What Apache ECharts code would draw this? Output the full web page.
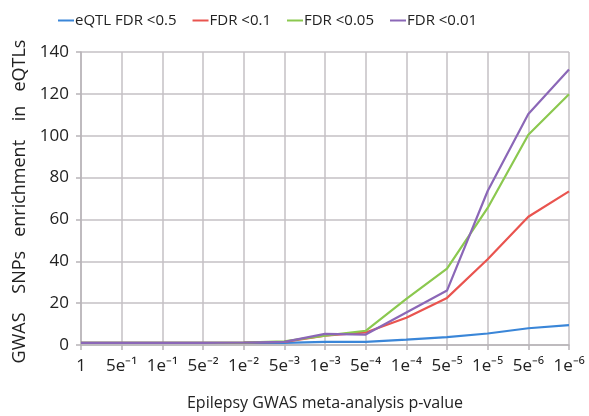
<!DOCTYPE html>
<html><head><meta charset="utf-8">
<script src="https://cdn.jsdelivr.net/npm/echarts@6/dist/echarts.min.js"></script>
<style>html,body{margin:0;padding:0;background:#fff}#c{width:589px;height:416px}</style>
</head><body><div id="c"></div>
<script>
var categories = ['1','5e⁻¹','1e⁻¹','5e⁻²','1e⁻²','5e⁻³','1e⁻³','5e⁻⁴','1e⁻⁴','5e⁻⁵','1e⁻⁵','5e⁻⁶','1e⁻⁶'];
var seriesNames = ['eQTL FDR <0.5','FDR <0.1','FDR <0.05','FDR <0.01'];
var fdr05 = [1,1,1,1,1,1,1.5,1.5,2.6,3.8,5.5,8,9.5];
var fdr01 = [1,1,1,1,1.2,1.5,4.5,6,13,22.5,41,61.3,73.4];
var fdr005 = [1,1,1,1,1.2,1.8,4.5,6.8,22,36.5,65.5,100.5,119.8];
var fdr001 = [1,1,1,1,1.2,1.5,5.3,5,15.5,26,73.6,110.4,131.6];
var yTicks = [0,20,40,60,80,100,120,140];
var colors = ['#3a86d8','#e9544f','#8bc84f','#8b67b7'];
var font = '"Open Sans", "Liberation Sans", sans-serif';
var data = [fdr05, fdr01, fdr005, fdr001];
var chart = echarts.init(document.getElementById('c'));
chart.setOption({
  animation:false,
  color: colors,
  textStyle:{fontFamily:font},
  legend:{
    top:8, left:53, itemWidth:16, itemHeight:2, itemGap:16,
    icon:'rect',
    textStyle:{fontSize:15, color:'#222', fontFamily:font, padding:[0,0,0,-4]},
    data: seriesNames
  },
  grid:{left:81, right:20, top:52, bottom:69},
  xAxis:{
    type:'category', data:categories, boundaryGap:false,
    name:'Epilepsy GWAS meta-analysis p-value', nameLocation:'middle', nameGap:50,
    nameTextStyle:{fontSize:16, color:'#222', fontFamily:font},
    axisLine:{lineStyle:{color:'#b8b4b8', width:1.5}},
    axisTick:{show:true, length:5, lineStyle:{color:'#b8b4b8', width:1.5}},
    axisLabel:{fontSize:17, color:'#222', margin:13, fontFamily:font, interval:0},
    splitLine:{show:true, lineStyle:{color:'#c4c0c4', width:1.5}}
  },
  yAxis:{
    type:'value', min:yTicks[0], max:yTicks[yTicks.length-1], interval:20,
    name:'GWAS    SNPs   enrichment    in   eQTLs', nameLocation:'middle', nameGap:52,
    nameTextStyle:{fontSize:18, color:'#222', fontFamily:font, padding:[0,0,0,-6]},
    axisLine:{show:true, lineStyle:{color:'#b8b4b8', width:1.5}},
    axisTick:{show:true, length:5, lineStyle:{color:'#b8b4b8', width:1.5}},
    axisLabel:{fontSize:17, color:'#222', margin:12, fontFamily:font},
    splitLine:{show:true, lineStyle:{color:'#c4c0c4', width:1.5}}
  },
  series: seriesNames.map(function(n,i){
    return {name:n, type:'line', data:data[i], symbol:'none', lineStyle:{width:2.2}};
  })
});
</script></body></html>
